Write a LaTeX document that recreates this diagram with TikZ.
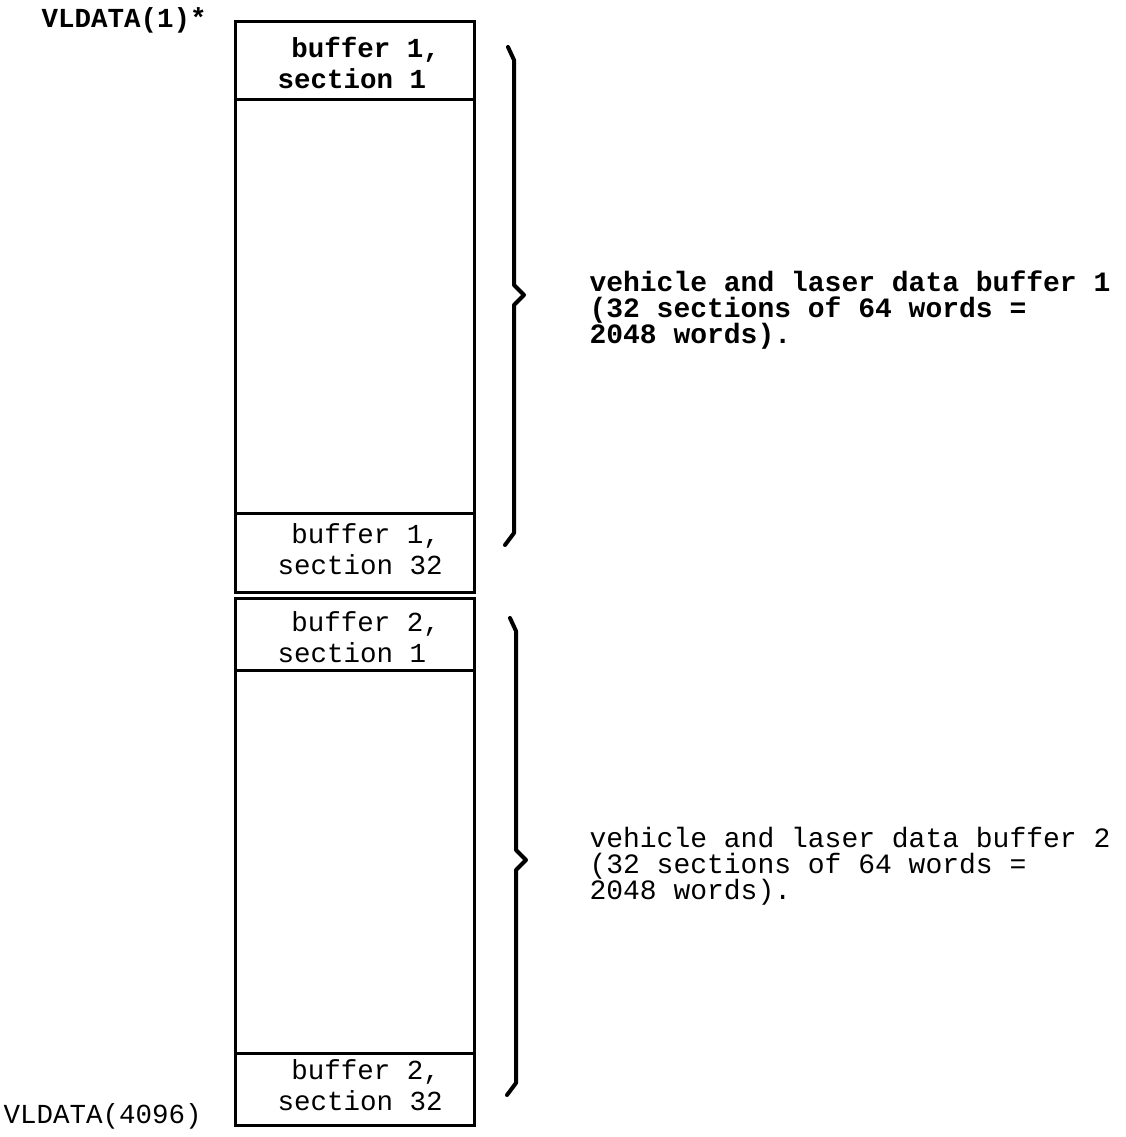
\documentclass[tikz,border=0pt]{standalone}
\usepackage{fontspec}
\setmonofont{Liberation Mono}
\usepackage{tikz}
\usetikzlibrary{positioning}
\setlength{\lineskiplimit}{-20pt}

\newcommand\memfont{\ttfamily\fontsize{27.5}{31}\selectfont}
\newcommand\notefont{\ttfamily\fontsize{28}{26}\selectfont}

\begin{document}
\begin{tikzpicture}[x=1pt, y=-1pt, line width=3pt,
    seclabel/.style={anchor=base west, align=left, inner sep=0pt, font=\memfont},
    note/.style={anchor=base west, align=left, inner sep=0pt, font=\notefont},
    brace/.style={line width=4pt, line cap=round, line join=round}]
  \useasboundingbox (0,0) rectangle (1125,1137);
  % ---- the two buffers of the array
  \draw (235,22) rectangle (474,592);
  \draw (235,598) rectangle (474,1125);
  \foreach \y in {100,513,670,1053} {
    \draw (235,\y) -- (474,\y);
  }
  % ---- first and last word
  \node[seclabel, font=\memfont\bfseries] (vl1) at (40,28) {VLDATA(1)*};
  \node[seclabel] (vl4096) at (2,1123) {VLDATA(4096)};
  % ---- sections (base = last line)
  \node[seclabel, font=\memfont\bfseries] (b1s1) at (276,89) {\hspace*{.5em}buffer 1,\\section 1};
  \node[seclabel] (b1s32) at (276,574) {\hspace*{.5em}buffer 1,\\section 32};
  \node[seclabel] (b2s1) at (276,662) {\hspace*{.5em}buffer 2,\\section 1};
  \node[seclabel] (b2s32) at (276,1110) {\hspace*{.5em}buffer 2,\\section 32};
  % ---- braces: x, top, tip, bottom
  \foreach \bx/\ya/\ym/\yb in {514/47/295/545, 516/618/860/1095} {
    \draw[brace] ({\bx-6},\ya) -- (\bx,{\ya+13}) -- (\bx,{\ym-10})
      -- ({\bx+10},\ym) -- (\bx,{\ym+10}) -- (\bx,{\yb-12}) -- ({\bx-9},\yb);
  }
  % ---- notes
  \node[note, font=\notefont\bfseries] (buf1) at (588,343)
    {vehicle and laser data buffer 1\\(32 sections of 64 words =\\2048 words).};
  \node[note] (buf2) at (588,899)
    {vehicle and laser data buffer 2\\(32 sections of 64 words =\\2048 words).};
\end{tikzpicture}
\end{document}
